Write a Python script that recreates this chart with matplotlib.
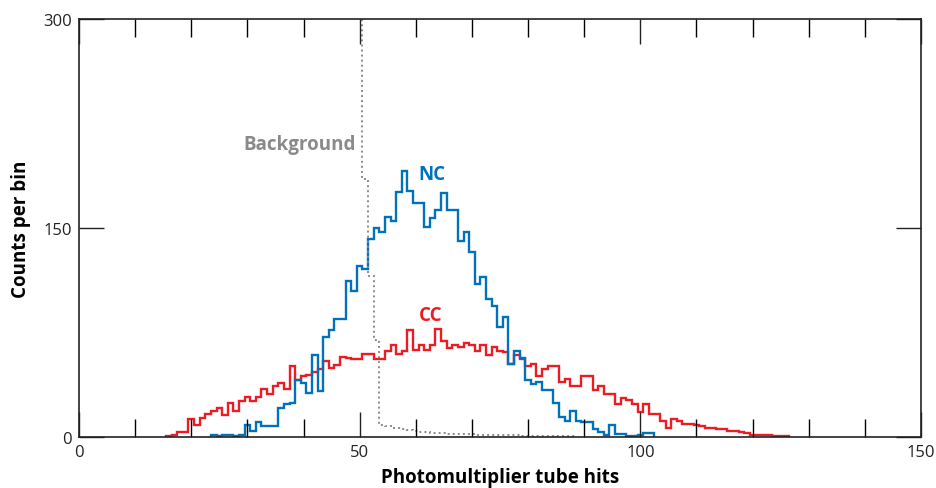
import numpy as np
import matplotlib
matplotlib.use('Agg')
import matplotlib.pyplot as plt
from matplotlib.ticker import MultipleLocator

plt.rcParams['font.family'] = ['Open Sans', 'DejaVu Sans']

# counts per 1-hit bin, bins centred on integer hit counts
cc_first = 16
cc_counts = [1, 2, 4, 4, 13, 9, 14, 17, 19, 21,
             16, 25, 19, 26, 29, 26, 29, 35, 31, 37,
             39, 35, 51, 41, 44, 45, 47, 49, 55, 50,
             52, 58, 57, 56, 56, 60, 60, 56, 56, 62,
             66, 60, 62, 77, 63, 66, 63, 66, 78, 69,
             64, 66, 65, 68, 66, 62, 66, 59, 65, 62,
             61, 53, 59, 56, 51, 53, 44, 49, 51, 51,
             40, 42, 37, 37, 44, 44, 34, 37, 31, 31,
             24, 28, 27, 24, 18, 24, 17, 17, 12, 7,
             13, 12, 10, 10, 9, 8, 7, 7, 6, 6,
             5, 5, 4, 3, 2, 2, 1.5, 1.5, 1, 1, 1]

nc_first = 24
nc_counts = [2, 1, 2, 2, 1, 2, 9, 5, 11, 8,
             8, 8, 21, 24, 25, 41, 39, 32, 59, 33,
             72, 77, 85, 85, 112, 105, 123, 121, 142, 150,
             147, 158, 155, 176, 191, 177, 168, 168, 151, 157,
             163, 175, 163, 163, 141, 147, 133, 110, 115, 99,
             94, 79, 86, 53, 62, 57, 41, 38, 40, 34,
             34, 25, 15, 12, 19, 12, 11, 11, 6, 4,
             1.5, 9, 2.5, 2.5, 1, 1, 2, 3, 3]

# background runs off the top of the scale below 51 hits
bg_first = 50
bg_counts = [1000, 185, 116, 70, 9, 8, 7, 6.5, 6, 5.5,
             4.5, 4, 3.8, 3.5, 3.2, 3, 2.8, 2.6, 2.5, 2.3,
             2.2, 2.1, 2, 1.9, 1.8, 1.7, 1.6, 1.5, 1.5, 1.4,
             1.4, 1.3, 1.3, 1.2, 1.2, 1.1, 1.1, 1, 1]


def bin_edges(first, counts):
    return np.arange(first - 0.5, first + len(counts), 1.0)


fig = plt.figure(figsize=(9.36, 4.89), dpi=100)
ax = fig.add_axes([0.0844, 0.1033, 0.8996, 0.856])

red = '#ed1c24'
blue = '#0072bc'
grey = '#8a8a8a'

ax.stairs(cc_counts, bin_edges(cc_first, cc_counts), color=red, lw=1.7)
ax.stairs(nc_counts, bin_edges(nc_first, nc_counts), color=blue, lw=1.7)
ax.stairs(bg_counts, bin_edges(bg_first, bg_counts), baseline=None,
          color=grey, lw=1.4, ls=(0, (1, 1.6)))

ax.set_xlim(0, 150)
ax.set_ylim(0, 300)

ax.xaxis.set_major_locator(MultipleLocator(50))
ax.xaxis.set_minor_locator(MultipleLocator(10))
ax.set_yticks([0, 150, 300])
ax.tick_params(axis='x', which='major', direction='in', length=18, width=1,
               top=True, bottom=True, labelsize=12, colors='#222222', pad=5)
ax.tick_params(axis='x', which='minor', direction='in', length=13, width=1,
               top=True, bottom=True)
ax.tick_params(axis='y', which='major', direction='in', length=18, width=1,
               left=True, right=True, labelsize=12, colors='#222222', pad=5)
for sp in ax.spines.values():
    sp.set_color('#222222')
    sp.set_linewidth(1.2)

ax.set_xlabel('Photomultiplier tube hits', fontsize=13.5, fontweight='bold',
              labelpad=5)
ax.set_ylabel('Counts per bin', fontsize=13.5, fontweight='bold', labelpad=9)

ax.text(49.3, 210, 'Background', color=grey, fontsize=13.5, fontweight='bold',
        ha='right', va='center')
ax.text(62.8, 189, 'NC', color=blue, fontsize=13.5, fontweight='bold',
        ha='center', va='center')
ax.text(62.6, 88, 'CC', color=red, fontsize=13.5, fontweight='bold',
        ha='center', va='center')

fig.savefig('out.png', dpi=100)
